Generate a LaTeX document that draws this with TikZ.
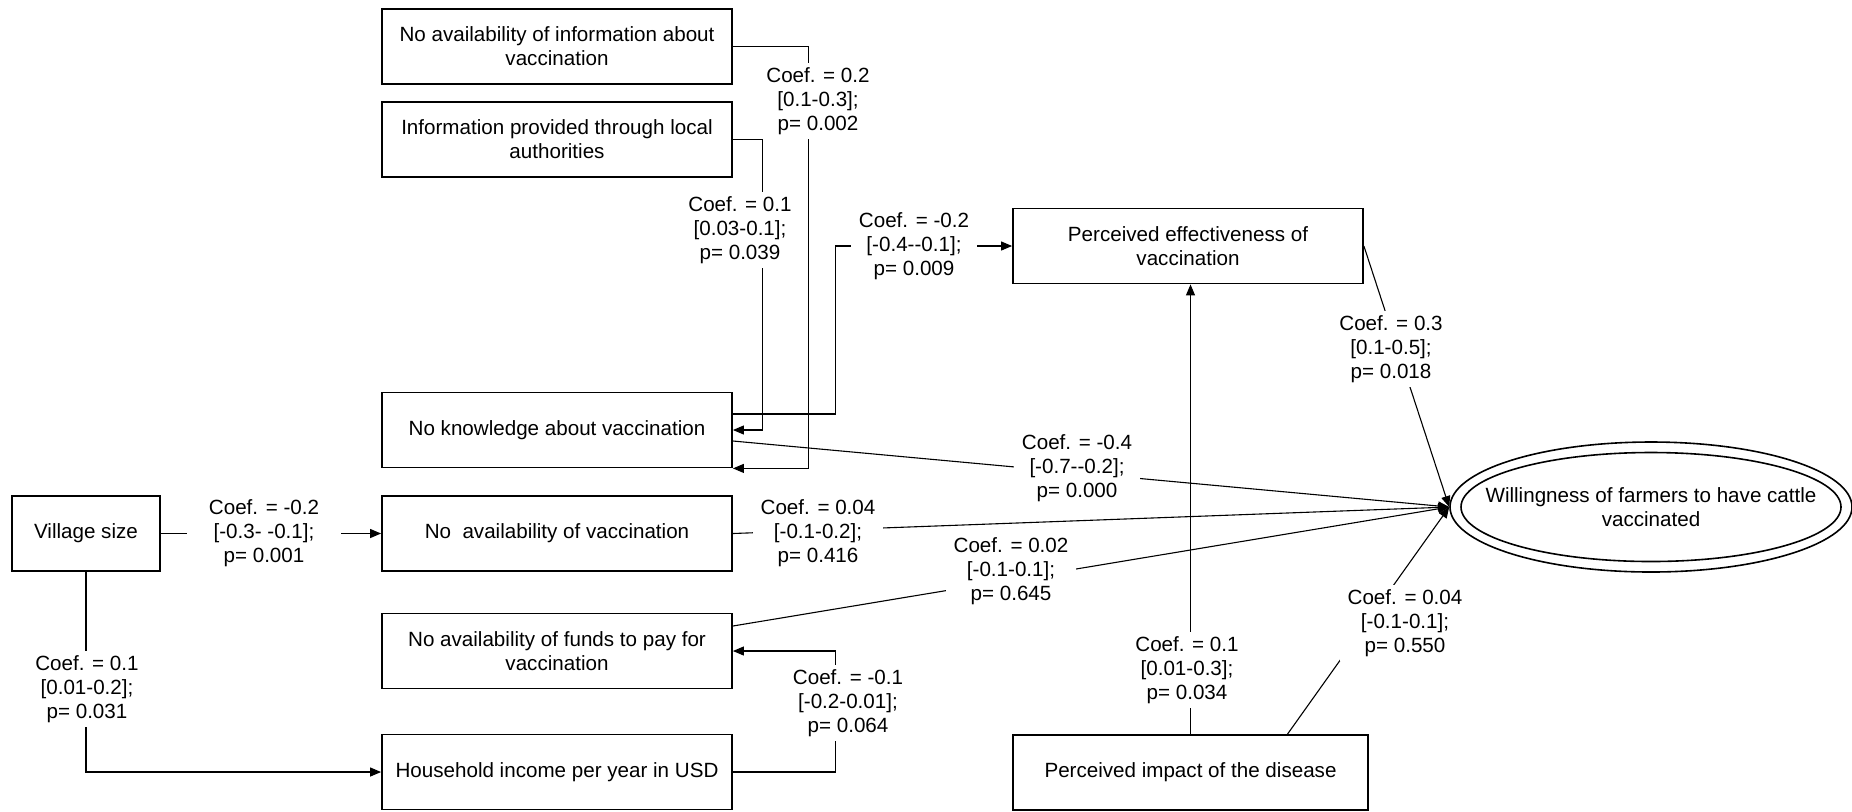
\documentclass[tikz,border=0pt]{standalone}
\usepackage{fontspec}
\newfontfamily\diagfont{Liberation Sans}
\usetikzlibrary{arrows.meta,shapes.geometric,calc}

\begin{document}
\begin{tikzpicture}[x=0.5pt,y=-0.5pt,
  every node/.style={font=\diagfont\fontsize{10.3pt}{12pt}\selectfont},
  factor/.style={draw, line width=0.9pt, minimum width=175pt, minimum height=37.5pt,
                 align=center, inner sep=2pt},
  conn/.style={line width=0.55pt},
  arr/.style={conn, -{Triangle[length=5.5pt,width=4.5pt]}},
  coef/.style={fill=white, align=center, inner xsep=4pt, inner ysep=2pt}
]
\useasboundingbox (0,0) rectangle (1852,811);

% factor boxes
\node[factor] (A) at (557,46.5)  {No availability of information about\\vaccination};
\node[factor] (B) at (557,139.5) {Information provided through local\\authorities};
\node[factor] (C) at (557,430)   {No knowledge about vaccination};
\node[factor] (D) at (557,533.5) {No~ availability of vaccination};
\node[factor] (E) at (557,651)   {No availability of funds to pay for\\vaccination};
\node[factor] (F) at (557,772)   {Household income per year in USD};
\node[factor, minimum width=74pt] (G) at (86,533.5) {Village size};
\node[factor] (H) at (1188,246)  {Perceived effectiveness of\\vaccination};
\node[factor, minimum width=177.5pt] (I) at (1190.5,772.5) {Perceived impact of the disease};

% outcome: double ellipse
\node[ellipse, draw, line width=0.8pt, minimum width=201pt, minimum height=65pt, inner sep=0pt]
  (W) at (1651,507) {};
\draw[line width=0.8pt] (W.center) ellipse [x radius=95pt, y radius=27.25pt];
\node[align=center] (Wt) at (W.center) {Willingness of farmers to have cattle\\vaccinated};

% connectors
\draw[arr] (A.east) -| ($(C.south east)+(76,0)$) -- (C.south east);
\draw[arr] (B.east) -| ($(C.east)+(30,0)$) -- (C.east);
\draw[arr] ($(C.east)+(0,-16)$) -- ++(103,0) |- (H.west);
\draw[arr] ($(C.east)+(0,11)$) -- (W.west);
\draw[arr] (D.east) -- (W.west);
\draw[arr] ($(E.east)+(0,-25)$) -- (W.west);
\draw[arr] (F.east) -- ++(103,0) |- (E.east);
\draw[arr] (G.east) -- (D.west);
\draw[arr] (G.south) |- (F.west);
\draw[arr] (H.east) -- (W.west);
\draw[arr] (I.north) -- (I.north |- H.south);
\draw[arr] ($(I.north)+(97,0)$) -- (W.west);

% coefficient labels
\node[coef] (lA)  at (818,101)  {Coef. = 0.2\\{}[0.1-0.3];\\p= 0.002};
\node[coef] (lB)  at (740,230)  {Coef. = 0.1\\{}[0.03-0.1];\\p= 0.039};
\node[coef] (lCH) at (914,246)  {Coef. = -0.2\\{}[-0.4--0.1];\\p= 0.009};
\node[coef] (lCW) at (1077,468) {Coef. = -0.4\\{}[-0.7--0.2];\\p= 0.000};
\node[coef] (lDW) at (818,533)  {Coef. = 0.04\\{}[-0.1-0.2];\\p= 0.416};
\node[coef] (lEW) at (1011,571) {Coef. = 0.02\\{}[-0.1-0.1];\\p= 0.645};
\node[coef] (lFE) at (848,703)  {Coef. = -0.1\\{}[-0.2-0.01];\\p= 0.064};
\node[coef, minimum width=77pt] (lGD) at (264,533) {Coef. = -0.2\\{}[-0.3- -0.1];\\p= 0.001};
\node[coef] (lGF) at (87,689)   {Coef. = 0.1\\{}[0.01-0.2];\\p= 0.031};
\node[coef] (lHW) at (1391,349) {Coef. = 0.3\\{}[0.1-0.5];\\p= 0.018};
\node[coef] (lIH) at (1187,670) {Coef. = 0.1\\{}[0.01-0.3];\\p= 0.034};
\node[coef] (lIW) at (1405,623) {Coef. = 0.04\\{}[-0.1-0.1];\\p= 0.550};
\end{tikzpicture}
\end{document}
